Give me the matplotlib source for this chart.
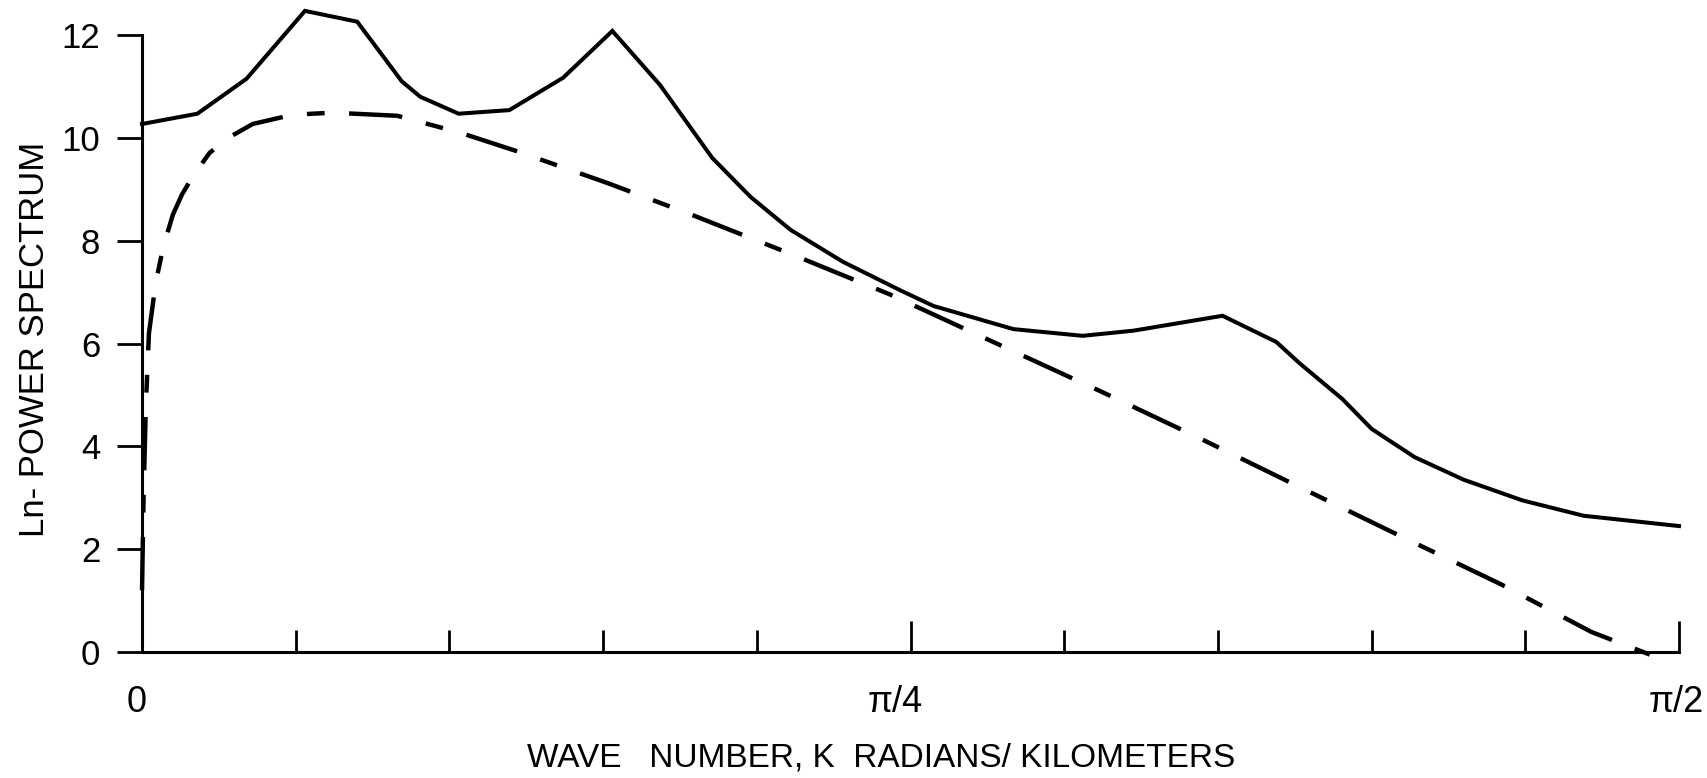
import numpy as np
import matplotlib
matplotlib.use("Agg")
import matplotlib.pyplot as plt
from matplotlib.ticker import FixedLocator
from matplotlib.transforms import ScaledTranslation

plt.rcParams['font.family'] = ['Liberation Sans', 'DejaVu Sans']

# wave number in steps of pi/20 (ten steps from 0 to pi/2)
step_solid = [0.0, 0.36, 0.68, 1.06, 1.40, 1.69, 1.81, 2.06, 2.39, 2.74, 3.06,
              3.37, 3.71, 3.96, 4.22, 4.56, 4.93, 5.15, 5.67, 6.12, 6.45, 7.03,
              7.38, 7.53, 7.81, 8.0, 8.28, 8.6, 8.98, 9.38, 10.0]
ln_power_observed = [10.27, 10.47, 11.15, 12.47, 12.26, 11.1, 10.80, 10.47, 10.54,
                     11.17, 12.08, 11.03, 9.61, 8.85, 8.21, 7.59, 7.04, 6.73, 6.28,
                     6.15, 6.25, 6.54, 6.03, 5.62, 4.92, 4.34, 3.79, 3.35, 2.95,
                     2.65, 2.45]

step_dashed = [0.0, 0.01, 0.025, 0.045, 0.09, 0.14, 0.20, 0.26, 0.33, 0.44, 0.59,
               0.72, 0.98, 1.24, 1.66, 2.07, 2.44, 3.03, 3.58, 4.24, 4.87, 5.56,
               6.23, 6.88, 7.53, 8.17, 8.84, 9.43, 9.81]
ln_power_model = [1.2, 3.0, 4.8, 6.2, 7.2, 7.9, 8.5, 8.9, 9.25, 9.71, 10.05,
                  10.27, 10.45, 10.49, 10.43, 10.10, 9.74, 9.12, 8.50, 7.72, 6.95,
                  6.0, 5.08, 4.16, 3.21, 2.28, 1.32, 0.39, -0.05]

y_ticks = [0, 2, 4, 6, 8, 10, 12]
x_major_labels = ['0', 'π/4', 'π/2']

k_solid = np.array(step_solid) * np.pi / 20
k_dashed = np.array(step_dashed) * np.pi / 20

fig = plt.figure(figsize=(17.07, 7.78), dpi=100)
ax = fig.add_axes([0.0832, 0.1289, 0.9004, 0.8657])

ax.plot(k_solid, ln_power_observed, color='black', lw=2.9, clip_on=False,
        solid_joinstyle='miter')
ax.plot(k_dashed, ln_power_model, color='black', lw=3.2, clip_on=False,
        dashes=(12, 5.5, 4, 5.5))

ax.set_xlim(0, np.pi / 2)
ax.set_ylim(-0.5, 12.6)

for s in ['top', 'right']:
    ax.spines[s].set_visible(False)
ax.spines['bottom'].set_position(('data', 0))
ax.spines['left'].set_bounds(0, 12)
ax.spines['bottom'].set_bounds(0, np.pi / 2)
for s in ['left', 'bottom']:
    ax.spines[s].set_linewidth(2.2)

ax.set_yticks(y_ticks)
ax.set_yticklabels([str(v) for v in y_ticks])
ax.tick_params(axis='y', direction='out', length=18, width=2.0, pad=12,
               labelsize=25)

ax.xaxis.set_major_locator(FixedLocator([0, np.pi / 4, np.pi / 2]))
ax.set_xticklabels(x_major_labels)
ax.xaxis.set_minor_locator(FixedLocator([i * np.pi / 20 for i in range(1, 10) if i != 5]))
ax.tick_params(axis='x', which='major', direction='in', length=22, width=2.0,
               pad=24, labelsize=26)
ax.tick_params(axis='x', which='minor', direction='in', length=16, width=2.0)

# the hand-lettered labels sit a little left of their ticks
shifts = [-5, -15, -3]
for lab, dx in zip(ax.get_xticklabels(), shifts):
    lab.set_transform(lab.get_transform() + ScaledTranslation(dx / 100, 0, fig.dpi_scale_trans))

ax.set_ylabel('Ln- POWER SPECTRUM', fontsize=25)
ax.yaxis.set_label_coords(-0.059, 0.503)
ax.set_xlabel('WAVE   NUMBER, K  RADIANS/ KILOMETERS', fontsize=24)
ax.xaxis.set_label_coords(0.481, -0.0955)

fig.savefig('out.png', dpi=100)
